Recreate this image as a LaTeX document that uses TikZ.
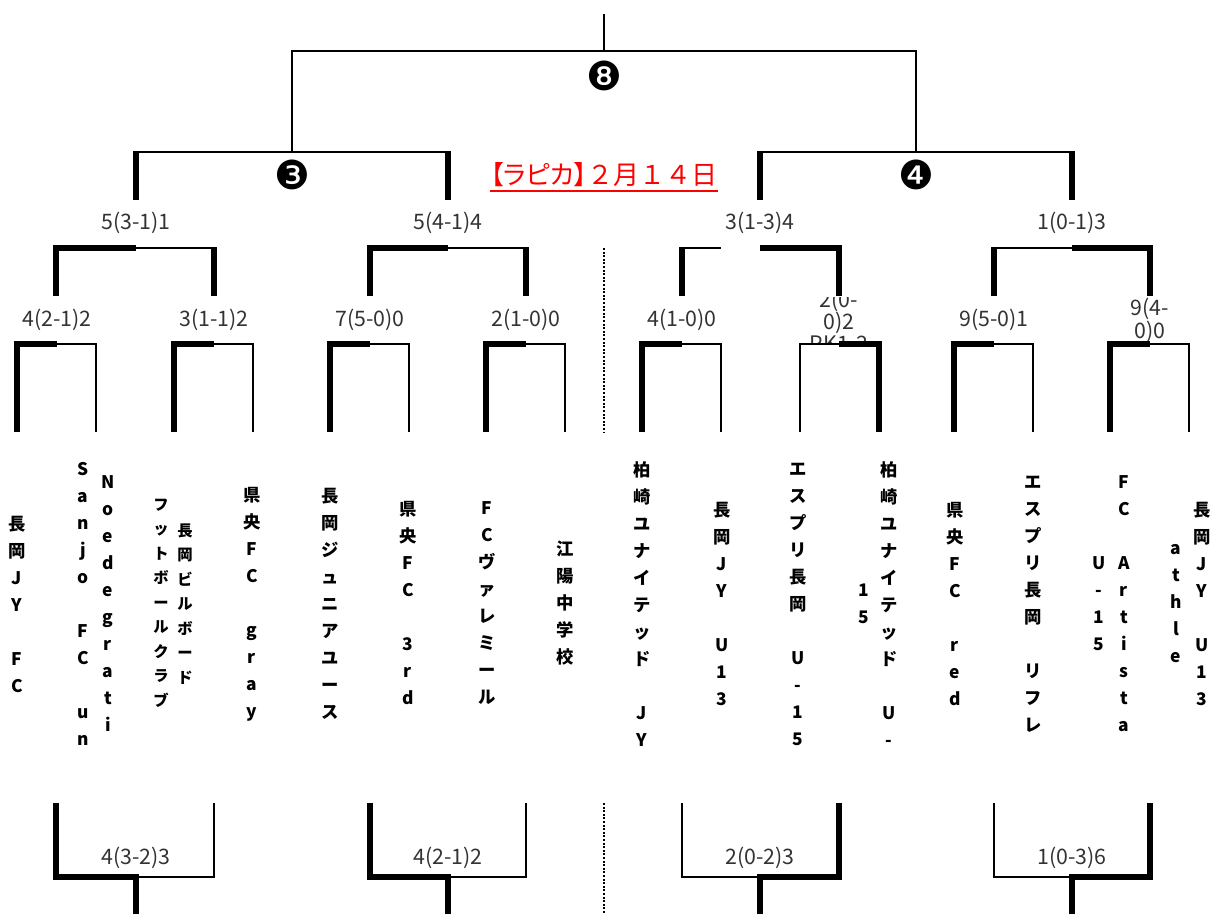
\documentclass[tikz,border=0pt]{standalone}
\usepackage{fontspec}
\setmainfont{Noto Sans CJK JP}
\newfontfamily\dingfont{DejaVu Sans}
\newfontfamily\paltfont[RawFeature=+palt]{Noto Sans CJK JP}
\definecolor{scoregray}{HTML}{333333}
\tikzset{
  fat/.style={line width=4.2pt},
  slim/.style={line width=1.3pt},
  score/.style={inner sep=0, text=scoregray, font=\fontsize{16}{17.3}\selectfont},
  team/.style={inner sep=0, align=center, font=\bfseries\fontsize{13}{20.25}\selectfont},
  smallteam/.style={team, font=\bfseries\fontsize{11.5}{18.4}\selectfont},
  roundno/.style={inner sep=0, font=\dingfont\fontsize{30}{30}\selectfont},
}
\begin{document}
\begin{tikzpicture}[x=0.75pt,y=-0.75pt]
  \useasboundingbox (0,0) rectangle (1211,914);
  % title and round numbers
  \node[inner sep=0, text=red, font=\fontsize{19.5}{21}\selectfont] (date) at (604,175) {{\paltfont 【ラピカ】}２月１４日};
  \draw[red, line width=1.3pt] ([yshift=-4.5pt]date.base west) -- ([yshift=-4.5pt]date.base east);
  \node[roundno] (r8) at (604,76) {❽};
  \node[roundno] (r3) at (292,175) {❸};
  \node[roundno] (r4) at (916,175) {❹};
  % scores
  \node[score] (s1) at (136,223) {5(3-1)1};
  \node[score] (s2) at (448,223) {5(4-1)4};
  \node[score] (s3) at (760,223) {3(1-3)4};
  \node[score] (s4) at (1072,223) {1(0-1)3};
  \node[score] (q1) at (57,320) {4(2-1)2};
  \node[score] (q2) at (214,320) {3(1-1)2};
  \node[score] (q3) at (370,320) {7(5-0)0};
  \node[score] (q4) at (526,320) {2(1-0)0};
  \node[score] (q5) at (682,320) {4(1-0)0};
  \begin{scope}
    \clip (800,297) rectangle (879,344);
    \node[score, align=center, font=\fontsize{16}{16.5}\selectfont] (q6) at (839,321) {2(0-\\0)2\\PK1-2};
  \end{scope}
  \node[score] (q7) at (994,320) {9(5-0)1};
  \node[score, align=center] (q8) at (1150,320) {9(4-\\0)0};
  \node[score] (b1) at (136,858) {4(3-2)3};
  \node[score] (b2) at (448,858) {4(2-1)2};
  \node[score] (b3) at (760,858) {2(0-2)3};
  \node[score] (b4) at (1072,858) {1(0-3)6};
  % teams
  \node[team] (t1) at (17,604) {長\\岡\\J\\Y\\~\\F\\C};
  \node[team] (t2a) at (83,604) {S\\a\\n\\j\\o\\~\\F\\C\\~\\u\\n};
  \node[team] (t2b) at (108,604) {N\\o\\e\\d\\e\\g\\r\\a\\t\\i};
  \node[smallteam] (t3a) at (161,603) {フ\\ッ\\ト\\ボ\\ー\\ル\\ク\\ラ\\ブ};
  \node[smallteam] (t3b) at (185,604) {長\\岡\\ビ\\ル\\ボ\\ー\\ド};
  \node[team] (t4) at (252,604) {県\\央\\F\\C\\~\\g\\r\\a\\y};
  \node[team] (t5) at (330,604) {長\\岡\\ジ\\ュ\\ニ\\ア\\ユ\\ー\\ス};
  \node[team] (t6) at (408,603) {県\\央\\F\\C\\~\\3\\r\\d};
  \node[team] (t7) at (487,603) {F\\C\\ヴ\\ァ\\レ\\ミ\\ー\\ル};
  \node[team] (t8) at (565,603) {江\\陽\\中\\学\\校};
  \node[team] (t9) at (642,604) {柏\\崎\\ユ\\ナ\\イ\\テ\\ッ\\ド\\~\\J\\Y};
  \node[team] (t10) at (722,604) {長\\岡\\J\\Y\\~\\U\\1\\3};
  \node[team] (t11) at (798,604) {エ\\ス\\プ\\リ\\長\\岡\\~\\U\\-\\1\\5};
  \node[team] (t12a) at (864,604) {1\\5};
  \node[team] (t12b) at (889,604) {柏\\崎\\ユ\\ナ\\イ\\テ\\ッ\\ド\\~\\U\\-};
  \node[team] (t13) at (955,604) {県\\央\\F\\C\\~\\r\\e\\d};
  \node[team] (t14) at (1033,604) {エ\\ス\\プ\\リ\\長\\岡\\~\\リ\\フ\\レ};
  \node[team] (t15a) at (1099,604) {U\\-\\1\\5};
  \node[team] (t15b) at (1124,604) {F\\C\\~\\A\\r\\t\\i\\s\\t\\a};
  \node[team] (t16a) at (1176,604) {a\\t\\h\\l\\e};
  \node[team] (t16b) at (1202,604) {長\\岡\\J\\Y\\~\\U\\1\\3};
  % final and semis
  \draw[slim] (604,14) -- (604,51);
  \draw[slim] (292,152) |- (916,51) -- (916,152);
  \draw[slim] (136,152) -- (448,152) (760,152) -- (1072,152);
  \draw[fat] (136,151) -- (136,200) (448,151) -- (448,200) (760,151) -- (760,200) (1072,151) -- (1072,200);
  % quarters
  \draw[fat] (56,296) |- (136,248) (214,247) -- (214,296);
  \draw[slim] (136,248) -- (214,248);
  \draw[fat] (370,296) |- (448,248) (526,247) -- (526,296);
  \draw[slim] (448,248) -- (526,248);
  \draw[fat] (682,247) -- (682,296) (760,248) -| (839,296);
  \draw[slim] (682,248) -- (721,248);
  \draw[fat] (994,247) -- (994,296) (1072,248) -| (1150,296);
  \draw[slim] (994,248) -- (1072,248);
  % first round
  \foreach \c in {57,214,370,526,682,994,1150} {
    \draw[fat] (\c-40,432) |- (\c,344);
    \draw[slim] (\c,344) -| (\c+39,432);
  }
  \draw[slim] (800,432) |- (839,344);
  \draw[fat] (839,344) -| (879,432);
  % lower bracket
  \draw[fat] (56,803) |- (136,877) -- (136,914);
  \draw[slim] (136,877) -| (214,803);
  \draw[fat] (370,803) |- (448,877) -- (448,914);
  \draw[slim] (448,877) -| (526,803);
  \draw[slim] (682,803) |- (760,877);
  \draw[fat] (760,914) |- (839,877) -- (839,803);
  \draw[slim] (994,803) |- (1072,877);
  \draw[fat] (1072,914) |- (1150,877) -- (1150,803);
  % divider
  \draw[line width=1.2pt, dash pattern=on 1.5pt off 1.2pt] (604,248) -- (604,432) (604,803) -- (604,914);
\end{tikzpicture}
\end{document}
